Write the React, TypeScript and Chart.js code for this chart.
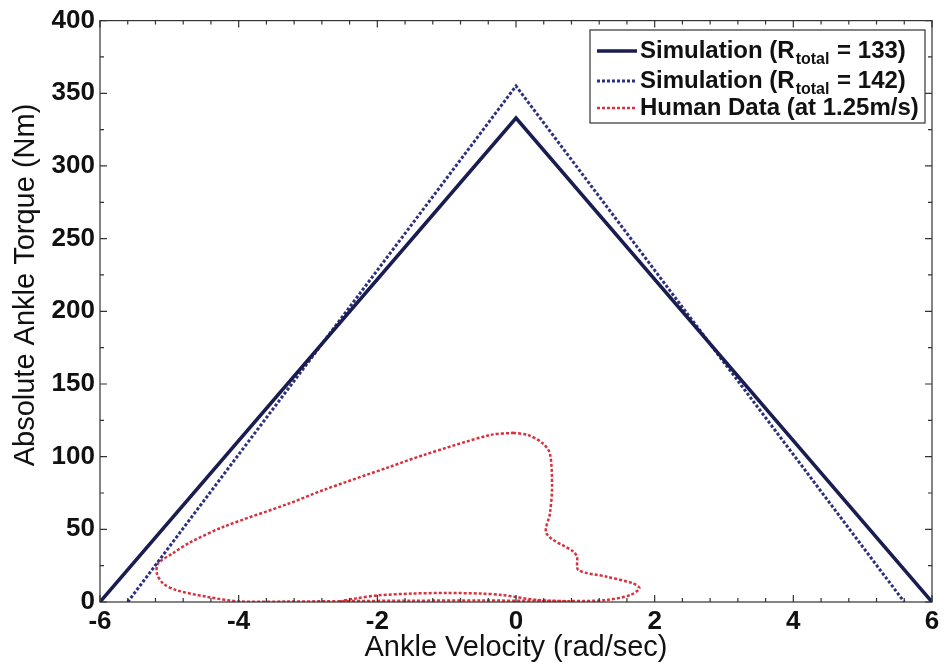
import React, { useEffect, useRef } from "react";
import { Chart, registerables } from "chart.js";

Chart.register(...registerables);

// ---- data ----
const sim133Velocity = [-6, 0, 6];
const sim133Torque = [0, 333, 0];

const sim142Velocity = [-5.6, 0, 5.6];
const sim142Torque = [0, 355, 0];

const humanVelocity = [
  -0.04, 0.18, 0.39, 0.49, 0.52, 0.49, 0.44, 0.83, 0.88, 0.9, 1.31, 1.69, 1.78, 1.65, 1.31, 0.8, 0.3,
  -0.5, -1.5, -2.5, -3.3, -3.98, -4.46, -4.9, -5.09, -5.18, -5.16, -4.95, -4.7, -4.22, -3.26, -2.78,
  -1.82, -1.34, -0.38, -0.04,
];
const humanTorque = [
  116.4, 114.8, 109, 102, 79, 61, 47, 34.6, 31, 22, 17.4, 12.8, 9.4, 4.8, 1.4, 0.6, 0.8, 1.0, 0.9,
  0.6, 0.3, 0.3, 3.6, 8.2, 12.8, 19.7, 26.6, 33.5, 41, 51.7, 68, 77, 93, 101, 114.8, 116.4,
];
// second pass of the human trace near the bottom
const humanVelocity2 = [-2.55, -2.3, -2.0, -1.5, -1.0, -0.5, -0.2, 0.3, 0.78];
const humanTorque2 = [0.4, 2.5, 4.5, 5.8, 6.2, 5.8, 4.8, 1.4, 0.5];

const xTickLabels = ["-6", "-4", "-2", "0", "2", "4", "6"];
const yTickLabels = ["0", "50", "100", "150", "200", "250", "300", "350", "400"];

const legendPre = ["Simulation (R", "Simulation (R", "Human Data (at 1.25m/s)"];
const legendSub = ["total", "total", ""];
const legendPost = [" = 133)", " = 142)", ""];

const xTitle = "Ankle Velocity (rad/sec)";
const yTitle = "Absolute Ankle Torque (Nm)";

const toPoints = (xs: number[], ys: number[]) => xs.map((x, i) => ({ x, y: ys[i] }));

const FONT = "'Liberation Sans', Arial, Helvetica, sans-serif";
const NAVY = "#1a1d50";
const BLUE = "#2c2f80";
const RED = "#d3343f";

const framePlugin = {
  id: "frameTicks",
  afterDatasetsDraw(chart: any) {
    const { ctx, chartArea } = chart;
    const { left, right, top, bottom } = chartArea;
    const xs = chart.scales.x;
    const ys = chart.scales.y;
    ctx.save();
    ctx.strokeStyle = "#333";
    ctx.lineWidth = 1.2;
    ctx.strokeRect(left, top, right - left, bottom - top);
    ctx.beginPath();
    for (let i = -15; i <= 15; i++) {
      const v = i * 0.4;
      const px = xs.getPixelForValue(v);
      const len = i % 5 === 0 ? 7 : 4;
      ctx.moveTo(px, bottom);
      ctx.lineTo(px, bottom - len);
      ctx.moveTo(px, top);
      ctx.lineTo(px, top + len);
    }
    for (let i = 0; i <= 16; i++) {
      const v = i * 25;
      const py = ys.getPixelForValue(v);
      const len = i % 2 === 0 ? 7 : 4;
      ctx.moveTo(left, py);
      ctx.lineTo(left + len, py);
      ctx.moveTo(right, py);
      ctx.lineTo(right - len, py);
    }
    ctx.stroke();
    // y axis title
    ctx.translate(26, 285);
    ctx.rotate(-Math.PI / 2);
    ctx.fillStyle = "#111";
    ctx.font = `29px ${FONT}`;
    ctx.textAlign = "center";
    ctx.textBaseline = "middle";
    ctx.fillText(yTitle, 0, 0);
    ctx.restore();
  },
  afterDraw(chart: any) {
    const { ctx } = chart;
    const bx = 590, by = 30, bw = 335, bh = 93;
    ctx.save();
    ctx.fillStyle = "#fff";
    ctx.fillRect(bx, by, bw, bh);
    ctx.strokeStyle = "#333";
    ctx.lineWidth = 1.2;
    ctx.strokeRect(bx, by, bw, bh);
    const rowsY = [51, 81, 108];
    const styles = [
      { color: NAVY, dash: [] as number[], width: 3.5 },
      { color: BLUE, dash: [3, 2], width: 3 },
      { color: RED, dash: [3, 2], width: 2.5 },
    ];
    for (let i = 0; i < 3; i++) {
      const y = rowsY[i];
      const s = styles[i];
      ctx.beginPath();
      ctx.strokeStyle = s.color;
      ctx.lineWidth = s.width;
      ctx.setLineDash(s.dash);
      ctx.moveTo(597, y);
      ctx.lineTo(637, y);
      ctx.stroke();
      ctx.setLineDash([]);
      ctx.fillStyle = "#111";
      ctx.textBaseline = "middle";
      ctx.textAlign = "left";
      ctx.font = `bold 24px ${FONT}`;
      let x = 640;
      ctx.fillText(legendPre[i], x, y);
      x += ctx.measureText(legendPre[i]).width;
      if (legendSub[i]) {
        ctx.font = `bold 16px ${FONT}`;
        ctx.fillText(legendSub[i], x + 1, y + 9);
        x += ctx.measureText(legendSub[i]).width + 2;
        ctx.font = `bold 24px ${FONT}`;
        ctx.fillText(legendPost[i], x, y);
      }
    }
    ctx.restore();
  },
};

export default function App() {
  const ref = useRef<HTMLCanvasElement | null>(null);
  useEffect(() => {
    if (!ref.current) return;
    const chart = new Chart(ref.current, {
      type: "scatter",
      data: {
        datasets: [
          {
            label: "Simulation (Rtotal = 133)",
            data: toPoints(sim133Velocity, sim133Torque),
            showLine: true,
            borderColor: NAVY,
            borderWidth: 3.5,
            pointRadius: 0,
          },
          {
            label: "Simulation (Rtotal = 142)",
            data: toPoints(sim142Velocity, sim142Torque),
            showLine: true,
            borderColor: BLUE,
            borderWidth: 3,
            borderDash: [3, 2],
            pointRadius: 0,
          },
          {
            label: "Human Data (at 1.25m/s)",
            data: toPoints(humanVelocity, humanTorque),
            showLine: true,
            borderColor: RED,
            borderWidth: 2.5,
            borderDash: [3, 2],
            pointRadius: 0,
            tension: 0.3,
          },
          {
            label: "Human Data 2",
            data: toPoints(humanVelocity2, humanTorque2),
            showLine: true,
            borderColor: RED,
            borderWidth: 2.5,
            borderDash: [3, 2],
            pointRadius: 0,
            tension: 0.3,
          },
        ],
      },
      options: {
        responsive: false,
        animation: false,
        devicePixelRatio: 1,
        layout: { padding: { top: 20, right: 14, left: 0, bottom: 0 } },
        plugins: { legend: { display: false }, tooltip: { enabled: false } },
        scales: {
          x: {
            type: "linear",
            min: -6,
            max: 6,
            grid: { display: false, drawTicks: false },
            border: { display: false },
            afterFit: (s: any) => {
              s.height = 65;
            },
            ticks: {
              stepSize: 2,
              padding: 4,
              color: "#111",
              font: { family: FONT, size: 26, weight: "bold" },
              callback: (v: any) => xTickLabels[Math.round((Number(v) + 6) / 2)] ?? "",
            },
            title: {
              display: true,
              text: xTitle,
              color: "#111",
              font: { family: FONT, size: 29, weight: "normal" },
              padding: { top: 0, bottom: 2 },
            },
          },
          y: {
            type: "linear",
            min: 0,
            max: 400,
            grid: { display: false, drawTicks: false },
            border: { display: false },
            afterFit: (s: any) => {
              s.width = 100;
            },
            ticks: {
              stepSize: 50,
              padding: 5,
              color: "#111",
              font: { family: FONT, size: 26, weight: "bold" },
              callback: (v: any) => yTickLabels[Math.round(Number(v) / 50)] ?? "",
            },
            title: { display: false },
          },
        },
      },
      plugins: [framePlugin],
    });
    return () => chart.destroy();
  }, []);
  return (
    <div style={{ position: "fixed", left: 0, top: 0, width: 946, height: 667, background: "#fff" }}>
      <canvas ref={ref} width={946} height={667} />
    </div>
  );
}
